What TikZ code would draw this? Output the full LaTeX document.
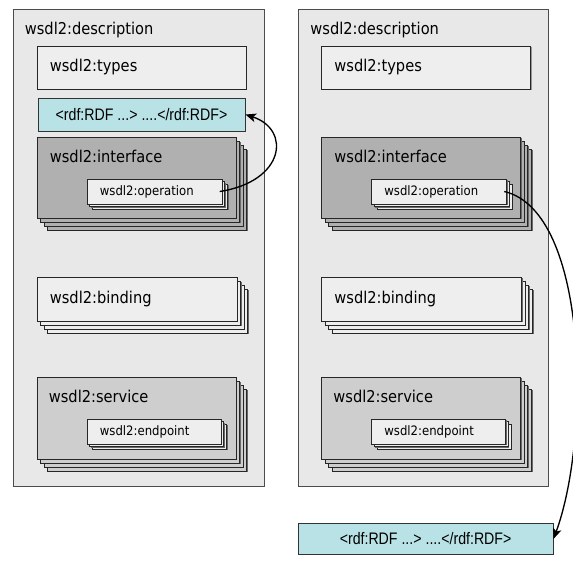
\documentclass[tikz,border=0pt]{standalone}
\usepackage{fontspec}
\setmainfont{DejaVu Sans Condensed}
\newfontfamily\rdffont[FakeStretch=0.85]{Liberation Sans}
\usepackage{tikz}
\usetikzlibrary{arrows.meta, positioning, calc, shadows}

\definecolor{descgray}{RGB}{232,232,232}
\definecolor{boxgray}{RGB}{238,238,238}
\definecolor{ifacegray}{RGB}{176,176,176}
\definecolor{servgray}{RGB}{206,206,206}
\definecolor{rdfcyan}{RGB}{184,226,230}
\definecolor{shadegray}{RGB}{105,105,105}

\tikzset{
	stack/.style={
		general shadow={shadow xshift=9pt, shadow yshift=-10.1pt, fill=shadegray, draw=none},
		general shadow={shadow xshift=7.9pt, shadow yshift=-9pt, fill=#1, draw=black!85, line width=0.5pt},
		general shadow={shadow xshift=6.35pt, shadow yshift=-7.1pt, fill=shadegray, draw=none},
		general shadow={shadow xshift=5.25pt, shadow yshift=-6pt, fill=#1, draw=black!85, line width=0.5pt},
		general shadow={shadow xshift=3.7pt, shadow yshift=-4.1pt, fill=shadegray, draw=none},
		general shadow={shadow xshift=2.6pt, shadow yshift=-3pt, fill=#1, draw=black!85, line width=0.5pt},
		general shadow={shadow xshift=1.1pt, shadow yshift=-1.1pt, fill=shadegray, draw=none},
		fill=#1, draw=black!85, line width=0.6pt},
	smallstack/.style={
		general shadow={shadow xshift=4.9pt, shadow yshift=-4.6pt, fill=shadegray, draw=none},
		general shadow={shadow xshift=4pt, shadow yshift=-3.7pt, fill=#1, draw=black!85, line width=0.5pt},
		general shadow={shadow xshift=2.9pt, shadow yshift=-2.9pt, fill=shadegray, draw=none},
		general shadow={shadow xshift=2pt, shadow yshift=-2pt, fill=#1, draw=black!85, line width=0.5pt},
		general shadow={shadow xshift=0.9pt, shadow yshift=-0.9pt, fill=shadegray, draw=none},
		fill=#1, draw=black!85, line width=0.6pt},
	flat/.style={
		general shadow={shadow xshift=0.9pt, shadow yshift=-0.9pt, fill=shadegray!70, draw=none},
		fill=boxgray, draw=black!85, line width=0.6pt},
	desc/.style={fill=descgray, draw=black!70, line width=0.6pt},
	rdfbox/.style={fill=rdfcyan, draw=black!80, line width=0.6pt, font=\rdffont\fontsize{12.5}{14}\selectfont},
	lbl/.style={inner sep=0pt, anchor=west, font=\fontsize{12.2}{14}\selectfont},
	smalllbl/.style={inner sep=0pt, anchor=west, font=\fontsize{9.75}{12}\selectfont},
	link/.style={->, >={Stealth[length=8pt, width=6.5pt, inset=2pt]}, line width=1pt}
}

\begin{document}
\begin{tikzpicture}[x=0.75pt, y=-0.75pt, every node/.style={inner sep=0pt}]

	\fill[white] (0,0) rectangle (573,566);
	\useasboundingbox (0,0) rectangle (573,566);

	\node [desc] (descL) at (138.5,247.5) [minimum width=188.25pt, minimum height=357.75pt] {};
	\node [lbl] (descLlbl) at ($(descL.north west)+(12,21)$) {wsdl2:description};

	\node [flat] (typesL) at (141.5,67.5) [minimum width=156.75pt, minimum height=32.25pt] {};
	\node [lbl] (typesLlbl) at ($(typesL.west)+(13,0)$) {wsdl2:types};

	\node [rdfbox] (rdfL) at (141.5,114.5) [minimum width=155.25pt, minimum height=24.75pt]
		{<rdf:RDF ...> ....</rdf:RDF>};

	\node [stack=ifacegray] (ifaceL) at (136.5,177.5) [minimum width=149.25pt, minimum height=60.75pt] {};
	\node [lbl] (ifaceLlbl) at ($(ifaceL.north west)+(13,20)$) {wsdl2:interface};

	\node [smallstack=boxgray] (opL) at (154.5,191.5) [minimum width=101.25pt, minimum height=18.75pt] {};
	\node [smalllbl] (opLlbl) at ($(opL.west)+(13,0)$) {wsdl2:operation};

	\node [stack=boxgray] (bindL) at (137,299) [minimum width=150pt, minimum height=33pt] {};
	\node [lbl] (bindLlbl) at ($(bindL.west)+(13,0)$) {wsdl2:binding};

	\node [stack=servgray] (servL) at (136.5,418) [minimum width=149.25pt, minimum height=61.5pt] {};
	\node [lbl] (servLlbl) at ($(servL.north west)+(12,20)$) {wsdl2:service};

	\node [smallstack=boxgray] (endL) at (154,431.5) [minimum width=100.5pt, minimum height=18.75pt] {};
	\node [smalllbl] (endLlbl) at ($(endL.west)+(13,0)$) {wsdl2:endpoint};

	\node [desc] (descR)
		[node distance=213.4pt, right of=descL, minimum width=187.5pt, minimum height=357.75pt] {};
	\node [lbl] (descRlbl) at ($(descR.north west)+(12.5,21)$) {wsdl2:description};

	\node [flat] (typesR)
		[node distance=213.4pt, right of=typesL, minimum width=156.75pt, minimum height=32.25pt] {};
	\node [lbl] (typesRlbl) at ($(typesR.west)+(13,0)$) {wsdl2:types};

	\node [stack=ifacegray] (ifaceR)
		[node distance=213.4pt, right of=ifaceL, minimum width=149.25pt, minimum height=60.75pt] {};
	\node [lbl] (ifaceRlbl) at ($(ifaceR.north west)+(13,20)$) {wsdl2:interface};

	\node [smallstack=boxgray] (opR)
		[node distance=213.4pt, right of=opL, minimum width=101.25pt, minimum height=18.75pt] {};
	\node [smalllbl] (opRlbl) at ($(opR.west)+(13,0)$) {wsdl2:operation};

	\node [stack=boxgray] (bindR)
		[node distance=213.4pt, right of=bindL, minimum width=150pt, minimum height=33pt] {};
	\node [lbl] (bindRlbl) at ($(bindR.west)+(13,0)$) {wsdl2:binding};

	\node [stack=servgray] (servR)
		[node distance=213.4pt, right of=servL, minimum width=149.25pt, minimum height=61.5pt] {};
	\node [lbl] (servRlbl) at ($(servR.north west)+(12,20)$) {wsdl2:service};

	\node [smallstack=boxgray] (endR)
		[node distance=213.4pt, right of=endL, minimum width=100.5pt, minimum height=18.75pt] {};
	\node [smalllbl] (endRlbl) at ($(endR.west)+(13,0)$) {wsdl2:endpoint};

	\node [rdfbox] (rdfB)
		[node distance=218.6pt, below of=descR, xshift=1.9pt, minimum width=191.25pt, minimum height=23.25pt]
		{<rdf:RDF ...> ....</rdf:RDF>};

	\draw[link] ([xshift=-2pt]opL.east) .. controls +(65,-10) and +(46,15) .. (rdfL.east);
	\draw[link] ([xshift=-2pt]opR.east) .. controls +(85,20) and +(37,-100) .. (rdfB.east);

\end{tikzpicture}
\end{document}
